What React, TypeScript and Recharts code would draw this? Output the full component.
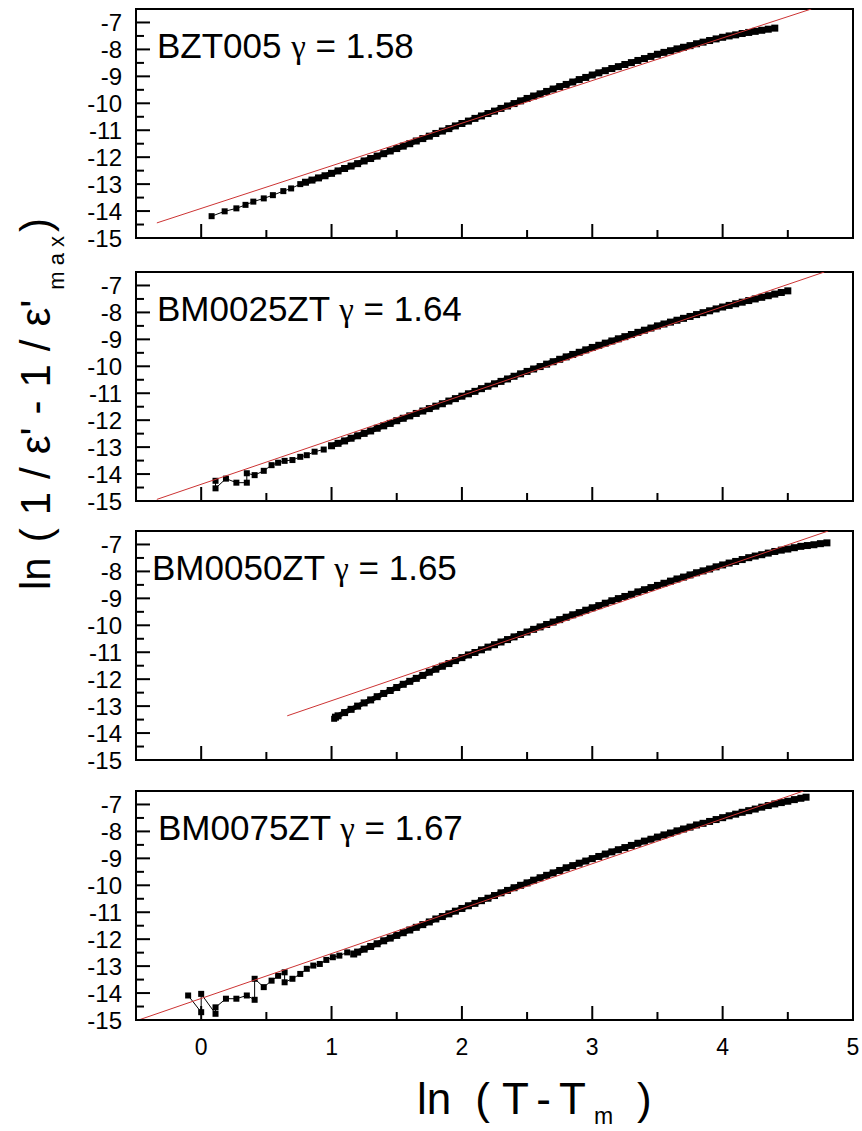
import React from 'react';
import { ScatterChart, Scatter, XAxis, YAxis, ReferenceArea } from 'recharts';

type Pt = [number, number];

const FONT = '"Liberation Sans", Arial, sans-serif';

const sampleNames = ['BZT005', 'BM0025ZT', 'BM0050ZT', 'BM0075ZT'];
const gammas = ['1.58', '1.64', '1.65', '1.67'];

const xTicks = [0, 0.5, 1, 1.5, 2, 2.5, 3, 3.5, 4, 4.5, 5];
const yTicks = [-15, -14.5, -14, -13.5, -13, -12.5, -12, -11.5, -11, -10.5, -10, -9.5, -9, -8.5, -8, -7.5, -7];

// ln(T - Tm) vs ln(1/e' - 1/e'max); low-temperature (sparse) points and the dense run
const bzt005Low: Pt[] = [
  [0.08, -14.19], [0.18, -14.01], [0.27, -13.9], [0.34, -13.77], [0.4, -13.65], [0.48, -13.53],
  [0.55, -13.41], [0.63, -13.26], [0.69, -13.16], [0.76, -13.0],
];
const bzt005: Pt[] = [
  [0.8, -12.93], [0.85, -12.85],
  [0.9, -12.77], [0.95, -12.69], [1.0, -12.6], [1.05, -12.51], [1.1, -12.42], [1.15, -12.33],
  [1.2, -12.24], [1.25, -12.14], [1.3, -12.05], [1.35, -11.96], [1.4, -11.87], [1.45, -11.77],
  [1.5, -11.68], [1.55, -11.59], [1.6, -11.5], [1.65, -11.4], [1.7, -11.31], [1.75, -11.22],
  [1.8, -11.12], [1.85, -11.03], [1.9, -10.94], [1.95, -10.84], [2.0, -10.75], [2.05, -10.66],
  [2.1, -10.56], [2.15, -10.47], [2.2, -10.38], [2.25, -10.29], [2.3, -10.19], [2.35, -10.1],
  [2.4, -10.01], [2.45, -9.91], [2.5, -9.82], [2.55, -9.73], [2.6, -9.65], [2.65, -9.56],
  [2.7, -9.47], [2.75, -9.38], [2.8, -9.3], [2.85, -9.21], [2.9, -9.12], [2.95, -9.04],
  [3.0, -8.95], [3.05, -8.87], [3.1, -8.79], [3.15, -8.71], [3.2, -8.64], [3.25, -8.56],
  [3.3, -8.49], [3.35, -8.41], [3.4, -8.34], [3.45, -8.26], [3.5, -8.18], [3.55, -8.11],
  [3.6, -8.05], [3.65, -7.98], [3.7, -7.92], [3.75, -7.86], [3.8, -7.79], [3.85, -7.73],
  [3.9, -7.67], [3.95, -7.61], [4.0, -7.55], [4.05, -7.5], [4.1, -7.46], [4.15, -7.41],
  [4.2, -7.37], [4.25, -7.33], [4.3, -7.29], [4.35, -7.25], [4.4, -7.21],
];

const bm0025Low: Pt[] = [
  [0.11, -14.25], [0.11, -14.53], [0.19, -14.17], [0.27, -14.32], [0.35, -14.32], [0.35, -13.97],
  [0.41, -14.04], [0.48, -13.88], [0.54, -13.67], [0.59, -13.58], [0.64, -13.51], [0.7, -13.48],
  [0.76, -13.36], [0.81, -13.3], [0.87, -13.17], [0.94, -13.09],
];
const bm0025: Pt[] = [
  [1.0, -12.95], [1.05, -12.86],
  [1.1, -12.77], [1.15, -12.67], [1.2, -12.58], [1.25, -12.49], [1.3, -12.4], [1.35, -12.3],
  [1.4, -12.21], [1.45, -12.12], [1.5, -12.02], [1.55, -11.93], [1.6, -11.84], [1.65, -11.75],
  [1.7, -11.66], [1.75, -11.57], [1.8, -11.48], [1.85, -11.39], [1.9, -11.29], [1.95, -11.2],
  [2.0, -11.11], [2.05, -11.02], [2.1, -10.93], [2.15, -10.83], [2.2, -10.74], [2.25, -10.65],
  [2.3, -10.56], [2.35, -10.47], [2.4, -10.37], [2.45, -10.28], [2.5, -10.19], [2.55, -10.1],
  [2.6, -10.01], [2.65, -9.92], [2.7, -9.83], [2.75, -9.74], [2.8, -9.65], [2.85, -9.56],
  [2.9, -9.48], [2.95, -9.39], [3.0, -9.3], [3.05, -9.22], [3.1, -9.14], [3.15, -9.06],
  [3.2, -8.98], [3.25, -8.9], [3.3, -8.82], [3.35, -8.74], [3.4, -8.66], [3.45, -8.58],
  [3.5, -8.5], [3.55, -8.43], [3.6, -8.36], [3.65, -8.29], [3.7, -8.22], [3.75, -8.15],
  [3.8, -8.08], [3.85, -8.01], [3.9, -7.94], [3.95, -7.87], [4.0, -7.8], [4.05, -7.74],
  [4.1, -7.68], [4.15, -7.62], [4.2, -7.56], [4.25, -7.5], [4.3, -7.44], [4.35, -7.38],
  [4.4, -7.32], [4.45, -7.26], [4.5, -7.2],
];

const bm0050Low: Pt[] = [[1.02, -13.47]];
const bm0050: Pt[] = [
  [1.03, -13.41], [1.05, -13.36], [1.1, -13.24], [1.15, -13.12], [1.2, -13.0],
  [1.25, -12.88], [1.3, -12.77], [1.35, -12.65], [1.4, -12.53], [1.45, -12.42], [1.5, -12.31],
  [1.55, -12.19], [1.6, -12.08], [1.65, -11.97], [1.7, -11.86], [1.75, -11.74], [1.8, -11.63],
  [1.85, -11.52], [1.9, -11.42], [1.95, -11.31], [2.0, -11.2], [2.05, -11.1], [2.1, -11.01],
  [2.15, -10.91], [2.2, -10.81], [2.25, -10.72], [2.3, -10.62], [2.35, -10.53], [2.4, -10.43],
  [2.45, -10.34], [2.5, -10.25], [2.55, -10.15], [2.6, -10.06], [2.65, -9.97], [2.7, -9.88],
  [2.75, -9.79], [2.8, -9.7], [2.85, -9.61], [2.9, -9.53], [2.95, -9.44], [3.0, -9.35],
  [3.05, -9.27], [3.1, -9.18], [3.15, -9.09], [3.2, -9.01], [3.25, -8.93], [3.3, -8.85],
  [3.35, -8.76], [3.4, -8.68], [3.45, -8.6], [3.5, -8.52], [3.55, -8.44], [3.6, -8.36],
  [3.65, -8.28], [3.7, -8.21], [3.75, -8.13], [3.8, -8.05], [3.85, -7.98], [3.9, -7.91],
  [3.95, -7.83], [4.0, -7.76], [4.05, -7.69], [4.1, -7.63], [4.15, -7.56], [4.2, -7.49],
  [4.25, -7.43], [4.3, -7.38], [4.35, -7.32], [4.4, -7.26], [4.45, -7.21], [4.5, -7.17],
  [4.55, -7.12], [4.6, -7.07], [4.65, -7.04], [4.7, -7.01], [4.75, -6.97], [4.8, -6.94],
];

const bm0075Low: Pt[] = [
  [-0.1, -14.09], [0.0, -14.71], [0.0, -14.03], [0.11, -14.77], [0.11, -14.53], [0.19, -14.21],
  [0.27, -14.21], [0.35, -14.09], [0.41, -14.25], [0.41, -13.47], [0.48, -13.78], [0.54, -13.54],
  [0.59, -13.36], [0.64, -13.23], [0.64, -13.6], [0.7, -13.47], [0.76, -13.29], [0.81, -13.1],
  [0.86, -12.98], [0.91, -12.92], [0.96, -12.77], [1.01, -12.67], [1.06, -12.61], [1.12, -12.49],
];
const bm0075: Pt[] = [
  [1.17, -12.55], [1.2, -12.48], [1.25, -12.37], [1.3, -12.27], [1.35, -12.17], [1.4, -12.06],
  [1.45, -11.96], [1.5, -11.86], [1.55, -11.76], [1.6, -11.66], [1.65, -11.56], [1.7, -11.46],
  [1.75, -11.36], [1.8, -11.25], [1.85, -11.16], [1.9, -11.06], [1.95, -10.96], [2.0, -10.86],
  [2.05, -10.76], [2.1, -10.67], [2.15, -10.57], [2.2, -10.48], [2.25, -10.38], [2.3, -10.28],
  [2.35, -10.19], [2.4, -10.09], [2.45, -10.0], [2.5, -9.91], [2.55, -9.81], [2.6, -9.72],
  [2.65, -9.63], [2.7, -9.54], [2.75, -9.45], [2.8, -9.35], [2.85, -9.27], [2.9, -9.18],
  [2.95, -9.1], [3.0, -9.01], [3.05, -8.93], [3.1, -8.84], [3.15, -8.76], [3.2, -8.68],
  [3.25, -8.6], [3.3, -8.52], [3.35, -8.44], [3.4, -8.36], [3.45, -8.29], [3.5, -8.21],
  [3.55, -8.13], [3.6, -8.06], [3.65, -7.98], [3.7, -7.91], [3.75, -7.84], [3.8, -7.76],
  [3.85, -7.7], [3.9, -7.63], [3.95, -7.56], [4.0, -7.49], [4.05, -7.42], [4.1, -7.36],
  [4.15, -7.29], [4.2, -7.23], [4.25, -7.17], [4.3, -7.1], [4.35, -7.04], [4.4, -6.98],
  [4.45, -6.93], [4.5, -6.88], [4.55, -6.82], [4.6, -6.77], [4.64, -6.73],
];

// fitted power-law lines (slope = gamma)
const fitBzt005: Pt[] = [[-0.34, -14.44], [4.68, -6.5]];
const fitBm0025: Pt[] = [[-0.34, -14.94], [4.78, -6.5]];
const fitBm0050: Pt[] = [[0.66, -13.36], [4.81, -6.5]];
const fitBm0075: Pt[] = [[-0.48, -15.0], [4.62, -6.5]];

const panelLow = [bzt005Low, bm0025Low, bm0050Low, bm0075Low];
const panelDense = [bzt005, bm0025, bm0050, bm0075];
const panelFits = [fitBzt005, fitBm0025, fitBm0050, fitBm0075];
const panelTops = [9, 272, 531, 791];
const labelX = [157, 157, 152, 158];

const PLOT_H = 229;

const toObj = (d: Pt[]) => d.map(([x, y]) => ({ x, y }));

const YTick = (props: any) => {
  const { x, y, payload } = props;
  const major = Number.isInteger(payload.value);
  return (
    <g>
      <line x1={x} x2={x + (major ? 14 : 8)} y1={y} y2={y} stroke="#000" strokeWidth={2} />
      {major && (
        <text x={x - 14} y={y} dy="0.36em" textAnchor="end" fontSize={24} fontFamily={FONT} fill="#000">
          {payload.value}
        </text>
      )}
    </g>
  );
};

const XTick = (props: any) => {
  const { x, y, payload, showLabel } = props;
  const major = Number.isInteger(payload.value);
  return (
    <g>
      <line x1={x} x2={x} y1={y} y2={y - (major ? 14 : 8)} stroke="#000" strokeWidth={2} />
      {showLabel && major && (
        <text x={x} y={y + 27} dy="0.36em" textAnchor="middle" fontSize={23} fontFamily={FONT} fill="#000">
          {payload.value}
        </text>
      )}
    </g>
  );
};

const SmallSquare = (props: any) => {
  const { cx, cy } = props;
  return <rect x={cx - 3} y={cy - 3} width={6} height={6} fill="#000" />;
};

const BigSquare = (props: any) => {
  const { cx, cy } = props;
  return <rect x={cx - 3.5} y={cy - 3.5} width={7} height={7} fill="#000" />;
};

function Panel({ idx }: { idx: number }) {
  const last = idx === 3;
  const axisH = last ? 50 : 26;
  const top = panelTops[idx];
  return (
    <div style={{ position: 'absolute', left: 0, top: top - 4 }}>
      <ScatterChart width={862} height={4 + PLOT_H + axisH} margin={{ top: 4, right: 9, bottom: 0, left: 0 }}>
        <XAxis
          type="number"
          dataKey="x"
          domain={[-0.5, 5]}
          ticks={xTicks}
          interval={0}
          allowDataOverflow
          height={axisH}
          tickSize={0}
          tickMargin={0}
          axisLine={false}
          tickLine={false}
          tick={(p: any) => <XTick {...p} showLabel={last} />}
        />
        <YAxis
          type="number"
          dataKey="y"
          domain={[-15, -6.5]}
          ticks={yTicks}
          interval={0}
          allowDataOverflow
          width={136}
          tickSize={0}
          tickMargin={0}
          axisLine={false}
          tickLine={false}
          tick={(p: any) => <YTick {...p} />}
        />
        <ReferenceArea x1={-0.5} x2={5} y1={-15} y2={-6.5} fill="#fff" fillOpacity={0} stroke="#000" strokeWidth={2} ifOverflow="visible" />
        <Scatter
          data={toObj(panelLow[idx])}
          fill="#000"
          line={{ stroke: '#000', strokeWidth: 1 }}
          lineType="joint"
          shape={SmallSquare}
          isAnimationActive={false}
        />
        <Scatter
          data={toObj(panelDense[idx])}
          fill="#000"
          line={{ stroke: '#000', strokeWidth: 5 }}
          lineType="joint"
          shape={BigSquare}
          isAnimationActive={false}
        />
        <Scatter
          data={toObj(panelFits[idx])}
          fill="#cc3333"
          line={{ stroke: '#cc3333', strokeWidth: 1 }}
          lineType="joint"
          shape={() => <g />}
          isAnimationActive={false}
        />
      </ScatterChart>
    </div>
  );
}

export default function App() {
  return (
    <div style={{ position: 'absolute', left: 0, top: 0, width: 862, height: 1131, background: '#fff' }}>
      {[0, 1, 2, 3].map((i) => (
        <Panel key={i} idx={i} />
      ))}
      <svg width={862} height={1131} style={{ position: 'absolute', left: 0, top: 0, pointerEvents: 'none' }}>
        {sampleNames.map((name, i) => (
          <text key={name} x={labelX[i]} y={panelTops[i] + 49} fontSize={35} fontFamily={FONT} fill="#000">
            {name}{' '}
            <tspan fontFamily='"Liberation Serif", serif' fontSize={33}>γ</tspan>
            {' = ' + gammas[i]}
          </text>
        ))}
        <text x={417} y={1114} fontSize={44} fontFamily={FONT} fill="#000">
          <tspan>ln</tspan>
          <tspan dx={24}>(</tspan>
          <tspan dx={12}>T</tspan>
          <tspan dx={10}>-</tspan>
          <tspan dx={8}>T</tspan>
          <tspan dx={8} dy={10} fontSize={23}>m</tspan>
          <tspan dx={24} dy={-10}>)</tspan>
        </text>
        <text transform="translate(50,590) rotate(-90)" fontSize={42} fontFamily={FONT} fill="#000">
          <tspan>ln</tspan>
          <tspan dx={15}>(</tspan>
          <tspan dx={13}>1</tspan>
          <tspan dx={13}>/</tspan>
          <tspan dx={13}>ε'</tspan>
          <tspan dx={13}>-</tspan>
          <tspan dx={13}>1</tspan>
          <tspan dx={13}>/</tspan>
          <tspan dx={13}>ε'</tspan>
          <tspan dx={10} dy={14} fontSize={22}>m a x</tspan>
          <tspan dx={4} dy={-14}>)</tspan>
        </text>
      </svg>
    </div>
  );
}
